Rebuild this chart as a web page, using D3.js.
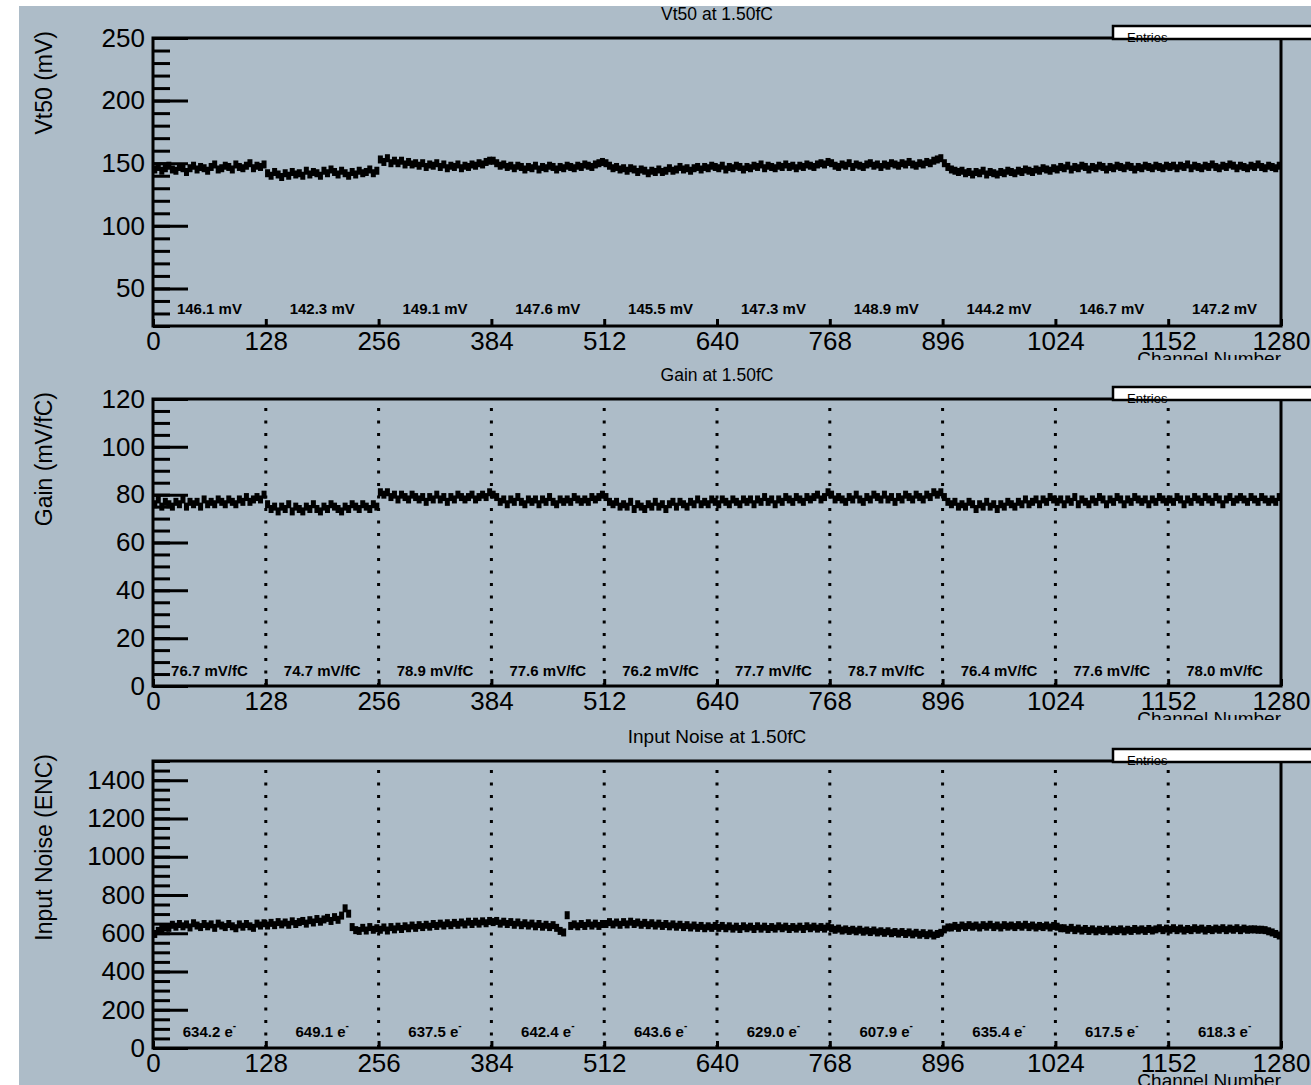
<!DOCTYPE html>
<html>
<head>
<meta charset="utf-8">
<script src="https://cdn.jsdelivr.net/npm/d3@7"></script>
<style>
  body { margin: 0; background: #fff; }
  svg { display: block; font-family: "Liberation Sans", Arial, Helvetica, sans-serif; }
</style>
</head>
<body>
<div id="chart"></div>
<script>
const width = 1311;
const height = 1085;

// =====================
// data (one value per 4 channels)
// =====================
const channelTicks = [0, 128, 256, 384, 512, 640, 768, 896, 1024, 1152, 1280];
const channelsPerPoint = 4;

const vt50Values = [
  145,147,144,146,148,145,144,147,146,143,146,148,145,147,146,144,147,149,145,146,148,147,145,149,147,146,148,150,146,148,147,149,
  142,140,143,141,139,142,140,143,141,142,140,144,141,143,142,140,144,142,145,143,141,144,142,140,143,141,144,142,143,145,142,144,
  153,151,154,150,152,150,152,149,151,149,150,148,150,147,149,148,150,147,149,146,148,147,149,146,148,147,149,148,150,149,151,152,
  152,150,148,149,147,148,146,148,147,145,147,146,148,145,147,146,148,147,145,147,146,148,147,146,148,147,149,148,147,149,150,151,
  150,148,146,147,145,146,144,146,145,143,145,144,142,144,143,145,143,144,146,144,145,147,145,146,144,146,147,145,147,146,148,147,
  146,148,145,147,146,148,147,145,147,146,148,147,149,146,148,147,146,148,147,149,147,148,146,148,147,149,148,147,149,150,149,151,
  150,148,147,149,148,150,147,149,148,147,149,150,148,149,147,149,148,150,149,148,150,149,151,149,148,150,149,151,150,152,153,154,
  150,147,145,144,143,144,142,143,141,143,142,144,141,143,142,141,143,142,144,143,142,144,143,145,144,143,145,144,146,145,144,146,
  145,147,146,148,145,147,146,148,147,145,147,146,148,147,145,147,146,148,147,146,148,147,145,147,146,148,147,146,148,147,146,148,
  147,148,146,148,147,149,146,148,147,146,148,147,149,147,146,148,147,149,148,146,148,147,146,148,147,149,147,146,148,147,146,148
];

const gainValues = [
  76,78,75,77,76,75,77,76,78,75,77,76,77,75,78,76,77,76,78,77,76,78,77,76,78,77,79,77,78,79,78,80,
  76,74,75,73,75,74,76,73,75,74,73,75,74,76,74,73,75,74,76,75,74,73,75,74,76,75,74,76,75,74,76,75,
  81,80,81,79,80,78,80,79,78,80,79,78,79,77,79,78,80,78,79,77,79,78,80,79,78,79,80,78,79,80,79,81,
  80,79,77,78,76,78,77,79,77,76,78,77,78,76,78,77,79,77,76,78,77,78,77,79,78,77,78,77,79,78,79,80,
  79,77,76,77,75,76,75,77,74,76,75,74,76,75,77,75,76,74,76,77,75,77,76,75,77,76,78,76,77,76,78,77,
  76,78,77,76,78,77,76,78,77,78,76,78,77,79,77,78,76,78,77,79,78,77,79,78,77,79,78,79,80,78,79,81,
  80,78,79,78,77,79,78,80,78,77,79,78,80,79,78,80,78,79,77,79,78,80,79,78,80,79,78,80,79,81,80,81,
  79,77,76,77,75,76,75,77,76,74,76,75,77,75,76,74,76,75,77,76,75,77,76,78,76,77,78,76,78,77,79,78,
  77,78,76,78,77,79,76,78,77,76,78,77,79,78,76,78,77,79,78,76,78,77,79,78,77,78,76,78,77,79,78,77,
  78,77,79,78,76,78,77,79,78,77,79,78,77,79,78,76,78,79,77,78,79,78,77,79,78,77,79,78,77,78,77,79
];

const noiseValues = [
  596,612,622,630,628,644,634,648,636,646,630,652,640,632,648,636,646,628,650,640,632,648,636,626,646,634,648,636,628,650,640,652,
  640,654,642,658,646,656,644,662,648,658,664,650,668,656,674,660,672,680,664,684,670,692,730,702,632,616,612,628,614,632,618,626,
  618,630,614,632,620,634,622,636,626,640,628,642,632,644,634,648,638,650,640,652,642,654,644,656,646,660,648,660,650,662,652,664,
  658,664,650,660,648,658,644,656,642,652,640,650,636,648,634,644,632,642,628,612,604,694,638,646,636,648,638,652,640,650,638,648,
  648,658,646,656,644,658,646,660,648,656,644,654,642,652,640,650,638,648,636,646,634,644,632,642,630,640,628,638,626,636,628,638,
  628,638,626,636,624,634,622,636,626,634,622,636,624,634,622,632,624,636,626,634,622,632,624,634,622,636,626,634,624,632,624,634,
  626,618,624,614,620,612,618,610,618,608,614,606,614,604,610,602,610,600,606,598,606,596,604,594,602,592,600,590,598,588,596,602,
  620,630,630,638,628,640,632,642,634,640,630,642,634,644,632,640,630,642,634,640,632,642,634,644,632,640,630,638,632,640,630,638,
  634,626,626,618,628,616,624,614,622,612,620,610,618,612,620,610,618,612,620,610,618,612,622,614,620,612,622,614,620,626,616,624,
  618,626,616,624,614,622,616,626,618,624,614,622,616,624,618,626,616,624,618,626,616,624,618,620,620,618,618,616,610,604,596,588
];

const vt50Means  = ["146.1","142.3","149.1","147.6","145.5","147.3","148.9","144.2","146.7","147.2"];
const gainMeans  = ["76.7","74.7","78.9","77.6","76.2","77.7","78.7","76.4","77.6","78.0"];
const noiseMeans = ["634.2","649.1","637.5","642.4","643.6","629.0","607.9","635.4","617.5","618.3"];

// =====================
// layout
// =====================
const bg = "#adbcc8";
const frameLeft = 153;
const frameRight = 1281;
const markerW = 5;
const markerH = 8;

const panels = [
  { title: "Vt50 at 1.50fC", yLabel: "Vt50 (mV)", values: vt50Values, means: vt50Means, unit: " mV",
    domain: [20, 250], majors: d3.range(50, 251, 50), minors: d3.range(20, 251, 10),
    bgTop: 6, bgBottom: 360, top: 38, bottom: 326, dotted: false, meanOffset: 12, titleSize: 17.5 },
  { title: "Gain at 1.50fC", yLabel: "Gain (mV/fC)", values: gainValues, means: gainMeans, unit: " mV/fC",
    domain: [0, 120], majors: d3.range(0, 121, 20), minors: d3.range(0, 121, 5),
    bgTop: 360, bgBottom: 720, top: 399, bottom: 686, dotted: true, meanOffset: 10, titleSize: 17.5 },
  { title: "Input Noise at 1.50fC", yLabel: "Input Noise (ENC)", values: noiseValues, means: noiseMeans, unit: " e",
    domain: [0, 1500], majors: d3.range(0, 1401, 200), minors: d3.range(0, 1501, 50),
    bgTop: 720, bgBottom: 1085, top: 761, bottom: 1048, dotted: true, meanOffset: 11, superMinus: true, titleSize: 19 }
];

const svg = d3.select("#chart")
  .append("svg")
  .attr("width", width)
  .attr("height", height);

svg.append("rect").attr("width", width).attr("height", height).attr("fill", "#fff");

const x = d3.scaleLinear().domain([0, 1280]).range([frameLeft, frameRight]);

panels.forEach(p => {
  const g = svg.append("g");
  const y = d3.scaleLinear().domain(p.domain).range([p.bottom, p.top]);

  // 背景
  g.append("rect")
    .attr("x", 19).attr("y", p.bgTop)
    .attr("width", width - 19).attr("height", p.bgBottom - p.bgTop)
    .attr("fill", bg);

  // title
  g.append("text")
    .attr("x", 717).attr("y", p.top - 18)
    .attr("text-anchor", "middle")
    .attr("font-size", p.titleSize)
    .text(p.title);

  // dotted chip boundaries
  if (p.dotted) {
    g.selectAll(".chip-line")
      .data(channelTicks.slice(1, -1))
      .join("line")
      .attr("class", "chip-line")
      .attr("x1", d => x(d)).attr("x2", d => x(d))
      .attr("y1", p.bottom).attr("y2", p.top)
      .attr("stroke", "#000")
      .attr("stroke-width", 3)
      .attr("stroke-dasharray", "3,9.5");
  }

  // points
  g.append("g")
    .selectAll("rect")
    .data(p.values)
    .join("rect")
    .attr("x", (d, i) => x(i * channelsPerPoint + channelsPerPoint / 2) - markerW / 2)
    .attr("y", d => y(d) - markerH / 2)
    .attr("width", markerW)
    .attr("height", markerH)
    .attr("fill", "#000");

  // y axis minor ticks
  const yMinor = g.append("g")
    .attr("transform", `translate(${frameLeft},0)`)
    .call(d3.axisLeft(y).tickValues(p.minors).tickSize(-17).tickFormat(""));
  yMinor.select(".domain").remove();
  yMinor.selectAll("line").attr("stroke-width", 3);

  // y axis major ticks
  const yMajor = g.append("g")
    .attr("transform", `translate(${frameLeft},0)`)
    .call(d3.axisLeft(y).tickValues(p.majors).tickSize(-35).tickPadding(8).tickFormat(d3.format("d")));
  yMajor.select(".domain").remove();
  yMajor.selectAll("line").attr("stroke-width", 3);
  yMajor.selectAll("text")
    .attr("font-size", 26)
    .attr("font-family", "Liberation Sans, Arial, sans-serif")
    .attr("fill", "#000");

  // x axis
  const xAxis = g.append("g")
    .attr("transform", `translate(0,${p.bottom})`)
    .call(d3.axisBottom(x).tickValues(channelTicks).tickSize(-7).tickPadding(6).tickFormat(d3.format("d")));
  xAxis.select(".domain").remove();
  xAxis.selectAll("line").attr("stroke-width", 3);
  xAxis.selectAll("text")
    .attr("font-size", 26)
    .attr("font-family", "Liberation Sans, Arial, sans-serif")
    .attr("fill", "#000");

  // frame
  g.append("rect")
    .attr("x", frameLeft).attr("y", p.top)
    .attr("width", frameRight - frameLeft).attr("height", p.bottom - p.top)
    .attr("fill", "none")
    .attr("stroke", "#000")
    .attr("stroke-width", 3);

  // y title
  g.append("text")
    .attr("transform", `translate(52,${p.top - 7}) rotate(-90)`)
    .attr("text-anchor", "end")
    .attr("font-size", 23)
    .text(p.yLabel);

  // x title
  g.append("text")
    .attr("x", frameRight).attr("y", p.bottom + 39)
    .attr("text-anchor", "end")
    .attr("font-size", 19)
    .text("Channel Number");

  // chip means
  const means = g.selectAll(".mean")
    .data(p.means)
    .join("text")
    .attr("class", "mean")
    .attr("x", (d, i) => x(channelTicks[i] + 64))
    .attr("y", p.bottom - p.meanOffset)
    .attr("text-anchor", "middle")
    .attr("font-size", 15)
    .attr("font-weight", "bold")
    .text(d => d + p.unit);
  if (p.superMinus) {
    means.append("tspan")
      .attr("dy", -8)
      .attr("font-size", 10)
      .text("-");
  }

  // stats box (Entries)
  g.append("rect")
    .attr("x", 1113).attr("y", p.top - 12)
    .attr("width", 230).attr("height", 13)
    .attr("fill", "#fff");
  g.append("text")
    .attr("x", 1127).attr("y", p.top + 4)
    .attr("font-size", 13)
    .text("Entries");
  g.append("rect")
    .attr("x", 1113).attr("y", p.top - 12)
    .attr("width", 230).attr("height", 13)
    .attr("fill", "none")
    .attr("stroke", "#000")
    .attr("stroke-width", 2.5);
});
</script>
</body>
</html>
